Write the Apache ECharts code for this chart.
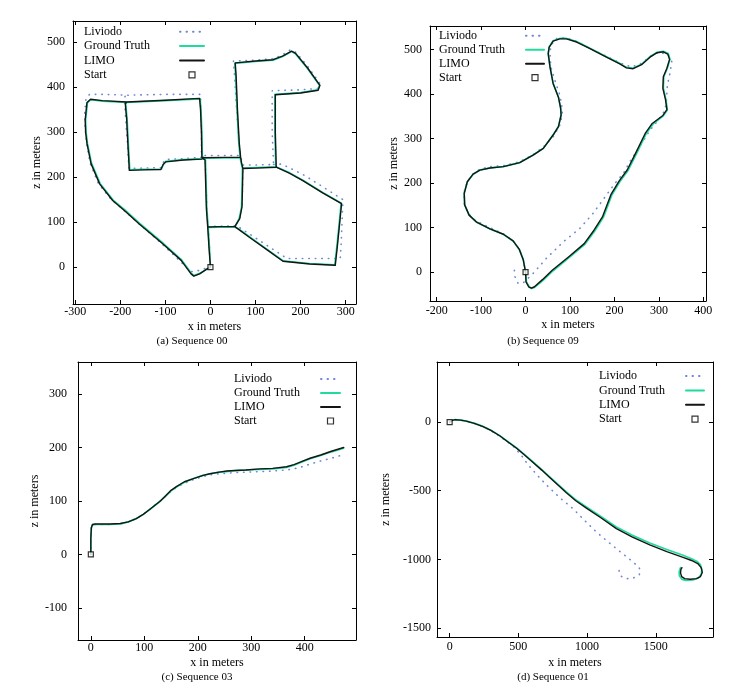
<!DOCTYPE html>
<html><head><meta charset="utf-8">
<script src="https://cdn.jsdelivr.net/npm/echarts@6.0.0/dist/echarts.min.js"></script>
<style>html,body{margin:0;padding:0;background:#fff}#c{width:739px;height:690px}</style>
</head><body><div id="c"></div>
<script>
// ---------- labels ----------
const legendNames = ['Liviodo', 'Ground Truth', 'LIMO', 'Start'];
const captions = ['(a) Sequence 00', '(b) Sequence 09', '(c) Sequence 03', '(d) Sequence 01'];
const xTitle = 'x in meters';
const yTitle = 'z in meters';

// ---------- tick labels ----------
const xTicks00 = [-300, -200, -100, 0, 100, 200, 300];
const yTicks00 = [0, 100, 200, 300, 400, 500];
const xTicks09 = [-200, -100, 0, 100, 200, 300, 400];
const yTicks09 = [0, 100, 200, 300, 400, 500];
const xTicks03 = [0, 100, 200, 300, 400];
const yTicks03 = [-100, 0, 100, 200, 300];
const xTicks01 = [0, 500, 1000, 1500];
const yTicks01 = [-1500, -1000, -500, 0];

// ---------- start point ----------
const startPoint = [[0, 0]];

// ---------- Sequence 00 (polylines of [x, z]) ----------
const seq00_liviodo = [
  [[0,0],[-2,40],[-5,90],[-8,130],[-10,200],[-12,242],[-20,248],[-20,300],[-21,350],[-22,384],[-100,384],[-186,382],[-240,384],[-268,384],[-276,376],[-279,345],[-278,310],[-275,275],[-267,231],[-249,186],[-220,150],[-193,127],[-158,96],[-108,52],[-70,16],[-50,-4],[-42,-10],[-28,-8],[-12,-3],[0,0]],
  [[-20,244],[-60,241],[-100,239],[-105,232],[-110,221],[-150,220],[-181,219],[-184,270],[-188,330],[-191,375],[-188,383]],
  [[-5,90],[25,91],[56,92]],
  [[-12,248],[30,248],[67,248],[63,280],[58,350],[54,420],[51,458],[100,460],[139,463],[160,472],[177,483],[190,477],[216,446],[243,408],[238,397],[200,394],[137,392],[137,300],[140,228],[100,227],[72,227],[69,238],[67,248]],
  [[72,227],[71,171],[70,134],[64,108],[56,92]],
  [[140,228],[158,229],[205,206],[250,178],[294,150],[292,100],[290,50],[288,19],[230,19],[170,19],[135,42],[92,70],[63,89],[56,92]]
];
const seq00_gt = [
  [[0,0],[-2,40],[-5,88],[-8,130],[-10,200],[-11,238],[-18,242],[-19,300],[-21,350],[-23,374],[-100,370],[-186,366],[-240,369],[-266,372],[-273,365],[-277,327],[-276,300],[-273,275],[-264,231],[-245,186],[-216,149],[-190,127],[-157,97],[-105,53],[-64,16],[-42,-14],[-37,-19],[-24,-14],[-9,-5],[0,0]],
  [[-18,241],[-60,239],[-99,235],[-104,229],[-109,218],[-150,217],[-179,216],[-182,270],[-185,330],[-188,362],[-186,366]],
  [[-5,88],[20,89],[54,89]],
  [[-18,242],[30,243],[66,243],[63,275],[59,349],[56,424],[54,453],[100,457],[139,460],[160,468],[180,479],[188,475],[215,442],[242,404],[238,394],[200,388],[143,384],[143,300],[145,223],[100,221],[71,220],[68,232],[66,243]],
  [[71,220],[70,171],[69,134],[64,108],[54,89]],
  [[145,223],[175,210],[205,193],[249,166],[284,146],[290,142],[286,100],[281,50],[276,5],[220,8],[161,14],[125,40],[91,64],[61,86],[54,89]]
];
const seq00_limo = [
  [[0,0],[-3,40],[-6,88],[-9,130],[-11,200],[-12,238],[-19,243],[-20,300],[-22,350],[-24,375],[-100,371],[-186,367],[-240,370],[-266,373],[-274,366],[-278,327],[-277,300],[-274,275],[-265,230],[-246,185],[-217,148],[-191,126],[-158,96],[-106,52],[-65,15],[-43,-15],[-37,-20],[-24,-15],[-9,-5],[0,0]],
  [[-19,240],[-60,238],[-99,234],[-105,228],[-110,217],[-150,216],[-180,215],[-183,270],[-186,330],[-189,363],[-186,367]],
  [[-6,89],[20,90],[54,90]],
  [[-19,243],[30,244],[67,244],[64,275],[60,349],[57,424],[55,454],[100,458],[139,461],[160,469],[180,480],[189,475],[216,442],[243,404],[239,393],[200,387],[144,383],[144,300],[146,222],[100,220],[72,219],[69,232],[67,244]],
  [[72,219],[71,171],[70,134],[65,108],[54,90]],
  [[146,222],[175,209],[205,192],[249,165],[284,145],[291,141],[287,100],[282,50],[277,4],[220,7],[161,13],[125,39],[91,63],[61,85],[54,90]]
];

// ---------- Sequence 09 ----------
const seq09_liviodo = [[
  [0,0],[-5,27],[-14,51],[-28,70],[-50,86],[-80,100],[-112,115],[-129,132],[-138,154],[-138,181],[-131,203],[-119,220],[-103,231],[-80,237],[-50,239],[-13,248],[17,264],[41,282],[62,304],[76,327],[83,354],[81,379],[76,401],[66,431],[57,461],[55,491],[57,510],[70,525],[92,527],[122,515],[152,499],[182,485],[212,470],[239,461],[261,469],[284,488],[302,494],[321,488],[329,473],[325,447],[319,420],[317,387],[314,364],[299,342],[280,319],[257,282],[237,252],[220,222],[200,198],[179,169],[152,132],[122,98],[85,68],[47,31],[17,-3],[-5,-24],[-17,-25],[-24,-10],[-26,14]
]];
const seq09_gt = [[
  [0,0],[2,-22],[8,-33],[14,-37],[21,-34],[40,-18],[62,3],[100,34],[134,63],[156,93],[175,123],[194,173],[212,203],[231,229],[250,267],[272,312],[287,333],[310,351],[319,364],[316,387],[310,413],[311,439],[319,458],[325,478],[321,491],[310,496],[296,494],[280,484],[261,467],[242,458],[227,460],[212,469],[182,484],[145,503],[115,518],[92,525],[77,525],[62,520],[53,506],[51,491],[55,461],[62,424],[74,393],[79,368],[80,353],[74,327],[62,308],[40,278],[17,263],[-13,246],[-50,237],[-80,234],[-103,229],[-118,220],[-131,203],[-138,177],[-137,151],[-127,128],[-110,112],[-80,97],[-50,85],[-28,70],[-14,51],[-5,27],[0,0]
]];
const seq09_limo = [[
  [0,0],[1,-22],[7,-33],[13,-36],[20,-33],[38,-17],[60,4],[98,35],[132,64],[154,94],[173,124],[192,174],[210,204],[229,230],[248,268],[270,313],[285,334],[309,352],[318,365],[315,387],[309,413],[310,439],[318,458],[324,478],[320,490],[310,495],[296,493],[280,483],[261,466],[242,457],[227,459],[212,468],[182,483],[145,502],[115,517],[92,524],[77,524],[62,519],[53,505],[51,491],[55,461],[62,424],[74,393],[79,368],[80,353],[74,327],[62,308],[40,278],[17,263],[-13,246],[-50,237],[-80,234],[-103,229],[-118,220],[-131,203],[-138,177],[-137,151],[-127,128],[-110,112],[-80,97],[-50,85],[-28,70],[-14,51],[-5,27],[0,0]
]];

// ---------- Sequence 03 ----------
const seq03_liviodo = [[
  [0,0],[0,30],[1,50],[3,55],[8,56],[36,56],[55,57],[70,61],[85,67],[98,75],[110,84],[120,92],[129,99],[140,109],[150,118],[160,125],[175,133],[192,140],[210,146],[223,149],[240,151],[254,152],[270,153],[290,154],[316,155],[340,156],[366,158],[379,160],[395,164],[410,169],[430,175],[450,180],[473,187]
]];
const seq03_gt = [[
  [0,0],[0,30],[1,50],[3,55],[8,56],[36,56],[55,57],[70,61],[85,67],[98,75],[110,84],[120,92],[129,99],[140,109],[150,119],[160,126],[175,135],[192,142],[210,148],[223,151],[240,154],[254,155],[270,157],[290,158],[316,159],[340,160],[366,163],[380,167],[395,173],[410,179],[430,185],[450,192],[473,199]
]];
const seq03_limo = [[
  [0,0],[0,30],[1,50],[3,56],[8,57],[36,57],[55,58],[70,61],[85,67],[98,75],[110,84],[120,92],[129,99],[140,110],[150,120],[160,127],[175,136],[192,142],[210,148],[223,151],[240,154],[254,156],[270,157],[290,158],[316,160],[340,161],[366,164],[380,168],[395,174],[410,180],[430,186],[450,193],[473,200]
]];

// ---------- Sequence 01 ----------
const seq01_liviodo = [[
  [0,0],[20,12],[40,17],[80,14],[121,7],[180,-10],[243,-32],[300,-62],[364,-105],[420,-145],[461,-175],[520,-240],[570,-310],[640,-390],[716,-470],[800,-550],[898,-631],[980,-715],[1067,-800],[1140,-862],[1213,-922],[1280,-975],[1334,-1019],[1370,-1050],[1390,-1080],[1380,-1110],[1360,-1125],[1330,-1138],[1295,-1140],[1262,-1133],[1240,-1115],[1232,-1090],[1237,-1050]
]];
const seq01_gt = [[
  [0,0],[20,12],[40,17],[80,14],[121,7],[180,-10],[243,-32],[300,-60],[364,-99],[420,-140],[485,-187],[545,-238],[607,-291],[670,-347],[728,-400],[790,-456],[849,-509],[920,-568],[995,-619],[1100,-688],[1213,-764],[1330,-825],[1456,-881],[1580,-928],[1698,-970],[1760,-995],[1800,-1015],[1825,-1040],[1835,-1075],[1830,-1110],[1810,-1135],[1770,-1150],[1720,-1153],[1690,-1145],[1672,-1120],[1670,-1090],[1680,-1060]
]];
const seq01_limo = [[
  [0,0],[20,12],[40,17],[80,14],[121,7],[180,-10],[243,-33],[300,-61],[364,-100],[420,-142],[485,-189],[545,-240],[607,-294],[670,-350],[728,-404],[790,-461],[849,-515],[920,-575],[995,-627],[1100,-697],[1213,-776],[1330,-838],[1456,-895],[1580,-943],[1698,-985],[1760,-1008],[1805,-1030],[1830,-1060],[1838,-1095],[1825,-1125],[1795,-1140],[1750,-1145],[1710,-1140],[1688,-1125],[1680,-1100],[1682,-1075],[1690,-1060]
]];

// ---------- layout / styles ----------
const FONT = 'Liberation Serif';
const panels = [
  {grid:{left:73,top:21,width:283,height:283}, xr:[-305,323], yr:[-82,547], xt:xTicks00, yt:yTicks00,
   liv:seq00_liviodo, gt:seq00_gt, limo:seq00_limo, xm:2, ym:8, xg:17, yg:26,
   leg:{left:84, top:24.7, tw:91, iw:24, gap:0.4}, cap:{x:192, y:336}},
  {grid:{left:430,top:26,width:276,height:275}, xr:[-215,406], yr:[-65,553], xt:xTicks09, yt:yTicks09,
   liv:seq09_liviodo, gt:seq09_gt, limo:seq09_limo, xm:4, ym:8, xg:18, yg:26,
   leg:{left:439, top:28.7, tw:82, iw:18, gap:0}, cap:{x:543, y:336}},
  {grid:{left:78,top:362,width:278,height:278}, xr:[-24,496], yr:[-160,360], xt:xTicks03, yt:yTicks03,
   liv:seq03_liviodo, gt:seq03_gt, limo:seq03_limo, xm:2, ym:11, xg:17, yg:26,
   leg:{left:234, top:372, tw:82, iw:19, gap:0}, cap:{x:197, y:672}},
  {grid:{left:437,top:362,width:276,height:275}, xr:[-92,1916], yr:[-1565,437], xt:xTicks01, yt:yTicks01,
   liv:seq01_liviodo, gt:seq01_gt, limo:seq01_limo, xm:4, ym:6, xg:20, yg:45,
   leg:{left:599, top:369, tw:82, iw:18, gap:0.4}, cap:{x:553, y:672}}
];

const COL_LIV = '#6f86d6', COL_GT = '#1fdc9c', COL_LIMO = '#151515';

function joinPolylines(polys) {
  const out = [];
  polys.forEach((p, i) => { if (i) out.push([null, null]); p.forEach(pt => out.push(pt)); });
  return out;
}
const fmt = v => String(v);
const textBase = {fontFamily: FONT, fontSize: 12, color: '#000'};
const noDot = {color: 'rgba(0,0,0,0)', borderWidth: 0, borderColor: 'rgba(0,0,0,0)'};

const grids = [], xAxes = [], yAxes = [], series = [], legends = [], titles = [];
panels.forEach((p, i) => {
  grids.push(Object.assign({outerBoundsMode: 'none', containLabel: false}, p.grid));
  const line = {show: true, onZero: false, lineStyle: {color: '#000', width: 1}};
  const tick = vals => ({show: true, inside: true, length: 4, customValues: vals, lineStyle: {color: '#000', width: 1}});
  xAxes.push({type: 'value', gridIndex: i, position: 'bottom', min: p.xr[0], max: p.xr[1],
    axisLine: line, axisTick: tick(p.xt), splitLine: {show: false},
    axisLabel: Object.assign({customValues: p.xt, formatter: fmt, margin: p.xm}, textBase),
    name: xTitle, nameLocation: 'middle', nameGap: p.xg, nameTextStyle: textBase});
  xAxes.push({type: 'value', gridIndex: i, position: 'top', min: p.xr[0], max: p.xr[1],
    axisLine: line, axisTick: tick(p.xt), splitLine: {show: false}, axisLabel: {show: false}});
  yAxes.push({type: 'value', gridIndex: i, position: 'left', min: p.yr[0], max: p.yr[1],
    axisLine: line, axisTick: tick(p.yt), splitLine: {show: false},
    axisLabel: Object.assign({customValues: p.yt, formatter: fmt, margin: p.ym}, textBase),
    name: yTitle, nameLocation: 'middle', nameGap: p.yg, nameTextStyle: textBase});
  yAxes.push({type: 'value', gridIndex: i, position: 'right', min: p.yr[0], max: p.yr[1],
    axisLine: line, axisTick: tick(p.yt), splitLine: {show: false}, axisLabel: {show: false}});

  const ax = {xAxisIndex: 2 * i, yAxisIndex: 2 * i};
  series.push(Object.assign({type: 'line', name: legendNames[0], data: joinPolylines(p.liv), symbol: 'none',
    showSymbol: false, connectNulls: false, silent: true, animation: false,
    lineStyle: {color: COL_LIV, width: 1.6, type: [0.5, 6], cap: 'round'}, itemStyle: noDot}, ax));
  series.push(Object.assign({type: 'line', name: legendNames[1], data: joinPolylines(p.gt), symbol: 'none',
    showSymbol: false, connectNulls: false, silent: true, animation: false,
    lineStyle: {color: COL_GT, width: 1.7, cap: 'round', join: 'round'}, itemStyle: noDot}, ax));
  series.push(Object.assign({type: 'line', name: legendNames[2], data: joinPolylines(p.limo), symbol: 'none',
    showSymbol: false, connectNulls: false, silent: true, animation: false,
    lineStyle: {color: COL_LIMO, width: 1.4, cap: 'round', join: 'round'}, itemStyle: noDot}, ax));
  series.push(Object.assign({type: 'scatter', name: legendNames[3], data: startPoint, symbol: 'rect', symbolSize: 5,
    silent: true, animation: false, z: 5,
    itemStyle: {color: '#ffffff', borderColor: '#000', borderWidth: 1.2}}, ax));

  legends.push({show: true, orient: 'vertical', align: 'right', left: p.leg.left, top: p.leg.top, padding: 0,
    itemWidth: p.leg.iw, itemHeight: 6, itemGap: p.leg.gap, selectedMode: false, symbolKeepAspect: true,
    data: [
      {name: legendNames[0], itemStyle: noDot},
      {name: legendNames[1], itemStyle: noDot},
      {name: legendNames[2], itemStyle: noDot},
      {name: legendNames[3], icon: 'path://M0 0H10V10H0Z', itemStyle: {color: '#fff', borderColor: '#000', borderWidth: 1.2}}
    ],
    formatter: '{t|{name}}',
    textStyle: {fontFamily: FONT, fontSize: 12, color: '#000', lineHeight: 14,
      rich: {t: {width: p.leg.tw, align: 'left', fontFamily: FONT, fontSize: 12, color: '#000', lineHeight: 14, height: 14}}}});

  titles.push({text: captions[i], left: p.cap.x, top: p.cap.y, textAlign: 'center', padding: 0,
    textStyle: {fontFamily: FONT, fontSize: 11, fontWeight: 'normal', color: '#000'}});
});

const chart = echarts.init(document.getElementById('c'), null, {renderer: 'canvas'});
chart.setOption({
  animation: false,
  backgroundColor: '#fff',
  title: titles,
  grid: grids,
  xAxis: xAxes,
  yAxis: yAxes,
  legend: legends,
  series: series
});
</script>
</body></html>
